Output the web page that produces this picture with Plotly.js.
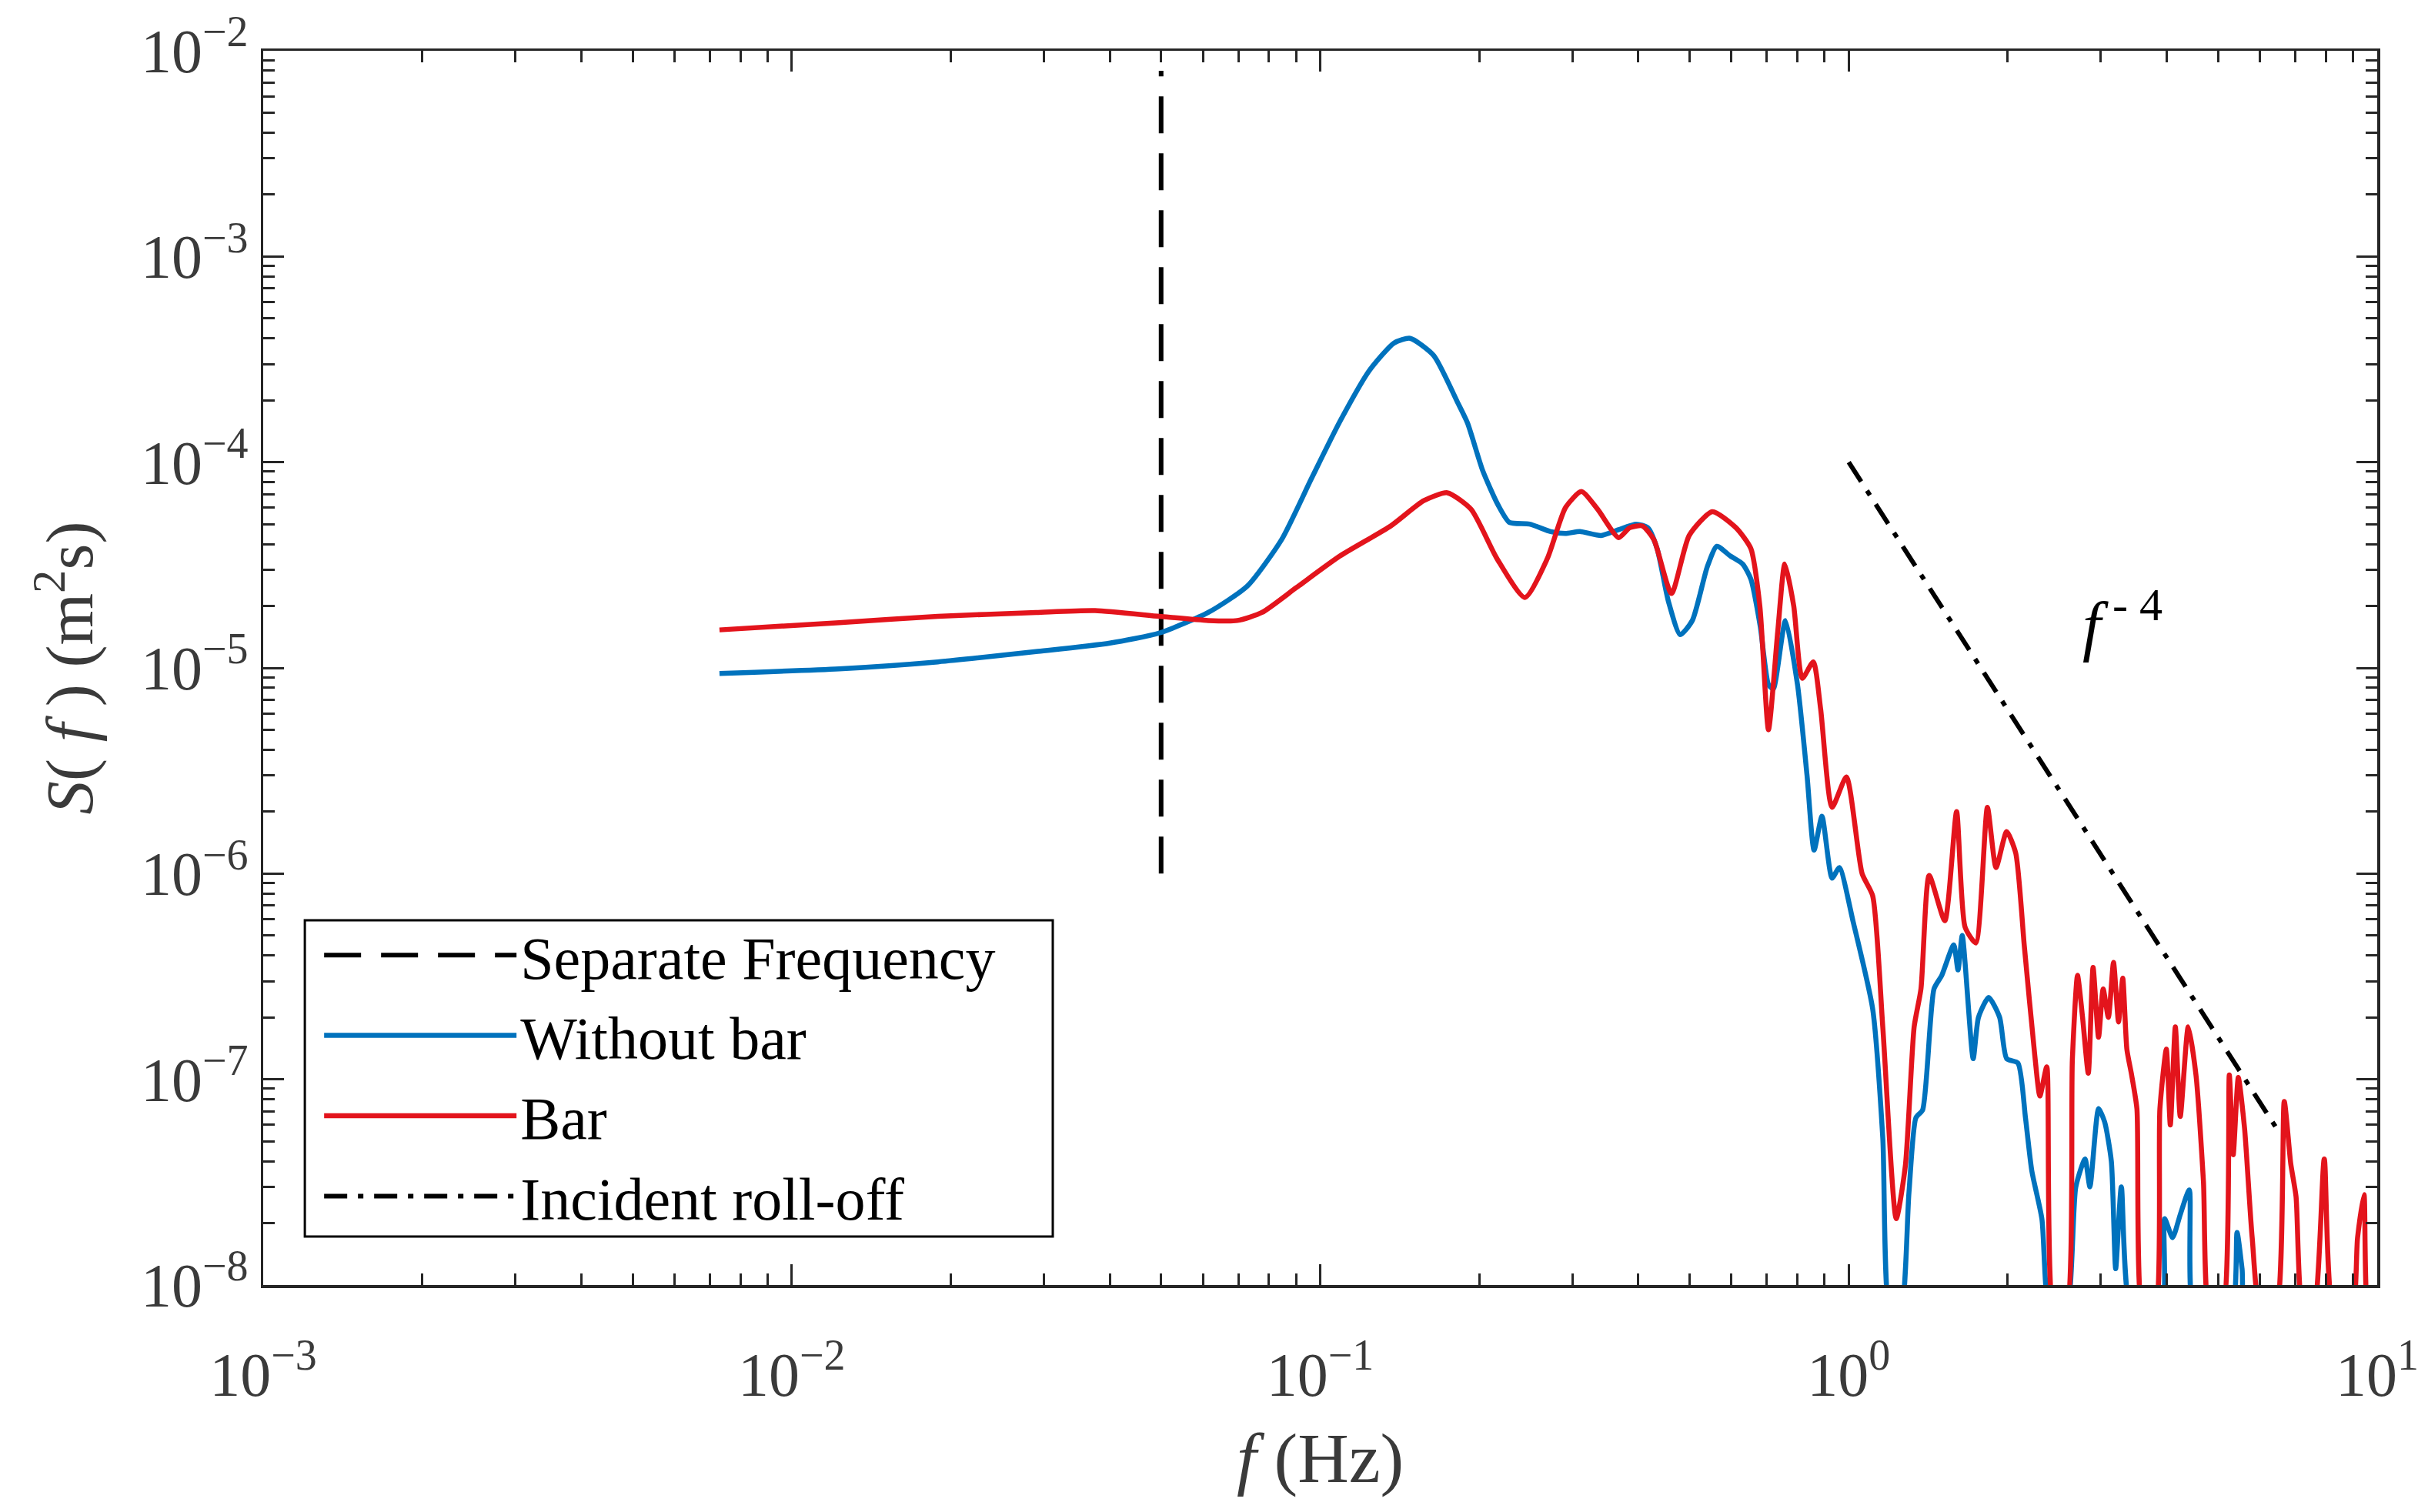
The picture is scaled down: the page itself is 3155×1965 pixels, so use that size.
<!DOCTYPE html>
<html>
<head>
<meta charset="utf-8">
<script src="https://cdn.plot.ly/plotly-3.0.1.min.js"></script>
<style>
  html, body { margin: 0; padding: 0; background: #fff; }
  #chart { width: 3155px; height: 1965px; }
</style>
</head>
<body>
<div id="chart"></div>
<script>
// frequency (Hz) and spectral density (m^2 s)
const fWithout = [
  0.0073, 0.0123, 0.0189, 0.029, 0.04, 0.0497, 0.0614, 0.0728, 0.0845, 0.0962,
  0.109, 0.124, 0.138, 0.148, 0.164, 0.182, 0.19, 0.203, 0.217, 0.228,
  0.249, 0.273, 0.291, 0.31, 0.34, 0.367, 0.396, 0.417, 0.434, 0.456,
  0.48, 0.506, 0.54, 0.563, 0.597, 0.63, 0.653, 0.68, 0.705, 0.72,
  0.759, 0.8, 0.834, 0.86, 0.89, 0.93, 0.96, 1.02, 1.11, 1.16,
  1.2, 1.25, 1.3, 1.34, 1.38, 1.45, 1.5, 1.58, 1.61, 1.64,
  1.72, 1.76, 1.84, 1.93, 1.99, 2.09, 2.16, 2.22, 2.32, 2.41,
  2.57, 2.69, 2.8, 2.86, 2.97, 3.05, 3.14, 3.2, 3.28, 3.44,
  3.9, 3.96, 4.1, 4.24, 4.41, 4.52, 5.28, 5.43, 5.55, 5.68,
  10
]
const sWithout = [
  9.4e-6, 9.9e-6, 1.07e-5, 1.2e-5, 1.32e-5, 1.48e-5, 1.86e-5, 2.5e-5, 4.2e-5, 8.3e-5,
  1.58e-4, 2.8e-4, 3.8e-4, 4.0e-4, 3.3e-4, 1.95e-4, 1.55e-4, 9.1e-5, 6.2e-5, 5.1e-5,
  5.0e-5, 4.6e-5, 4.5e-5, 4.6e-5, 4.4e-5, 4.7e-5, 5.0e-5, 4.8e-5, 3.8e-5, 2.1e-5,
  1.45e-5, 1.7e-5, 3.1e-5, 3.9e-5, 3.5e-5, 3.2e-5, 2.7e-5, 1.6e-5, 8.3e-6, 7.9e-6,
  1.7e-5, 8.3e-6, 3.0e-6, 1.3e-6, 1.9e-6, 9.5e-7, 1.07e-6, 5.8e-7, 2.2e-7, 5.2e-8,
  7e-9, 7e-9, 2.8e-8, 6.5e-8, 7.1e-8, 2.75e-7, 3.2e-7, 4.5e-7, 3.4e-7, 5.0e-7,
  1.26e-7, 2.0e-7, 2.5e-7, 2.0e-7, 1.26e-7, 1.2e-7, 6.5e-8, 3.6e-8, 2.1e-8, 7e-9,
  7e-9, 3.0e-8, 4.1e-8, 3.0e-8, 7.2e-8, 6.2e-8, 4.0e-8, 1.2e-8, 3.0e-8, 7e-9,
  7e-9, 2.1e-8, 1.7e-8, 2.2e-8, 2.9e-8, 7e-9, 7e-9, 1.8e-8, 1.2e-8, 7e-9,
  5e-9
]

const fBar = [
  0.0073, 0.0123, 0.0189, 0.029, 0.0375, 0.0497, 0.0614, 0.0697, 0.0776, 0.09,
  0.109, 0.136, 0.157, 0.174, 0.193, 0.216, 0.244, 0.269, 0.291, 0.312,
  0.335, 0.367, 0.385, 0.407, 0.428, 0.462, 0.499, 0.552, 0.612, 0.653,
  0.679, 0.705, 0.734, 0.757, 0.787, 0.817, 0.857, 0.885, 0.93, 0.99,
  1.06, 1.11, 1.16, 1.23, 1.28, 1.33, 1.37, 1.42, 1.52, 1.6,
  1.66, 1.74, 1.83, 1.9, 1.99, 2.07, 2.15, 2.25, 2.3, 2.37,
  2.45, 2.57, 2.65, 2.71, 2.77, 2.84, 2.9, 2.97, 3.03, 3.1,
  3.17, 3.24, 3.3, 3.36, 3.43, 3.51, 3.61, 3.79, 3.88, 3.99,
  4.06, 4.15, 4.24, 4.39, 4.54, 4.69, 4.83, 5.08, 5.25, 5.34,
  5.46, 5.61, 5.8, 6.04, 6.41, 6.67, 6.86, 7.02, 7.26, 7.55,
  7.94, 8.3, 8.93, 9.18, 9.44, 9.65, 10
]
const sBar = [
  1.53e-5, 1.66e-5, 1.78e-5, 1.86e-5, 1.9e-5, 1.78e-5, 1.7e-5, 1.7e-5, 1.86e-5, 2.45e-5,
  3.5e-5, 4.9e-5, 6.5e-5, 7.1e-5, 5.9e-5, 3.4e-5, 2.2e-5, 3.4e-5, 6.0e-5, 7.2e-5,
  5.9e-5, 4.3e-5, 4.8e-5, 4.9e-5, 4.2e-5, 2.3e-5, 4.4e-5, 5.75e-5, 4.8e-5, 3.8e-5,
  2.0e-5, 5.0e-6, 1.5e-5, 3.2e-5, 2.0e-5, 8.9e-6, 1.07e-5, 6.3e-6, 2.1e-6, 2.95e-6,
  1.0e-6, 7.8e-7, 1.8e-7, 2.1e-8, 3.8e-8, 1.8e-7, 2.75e-7, 9.8e-7, 5.9e-7, 2.0e-6,
  5.5e-7, 4.6e-7, 2.1e-6, 1.07e-6, 1.6e-6, 1.26e-6, 4.4e-7, 1.3e-7, 8.3e-8, 1.15e-7,
  7e-9, 7e-9, 1.26e-7, 3.2e-7, 2.0e-7, 1.07e-7, 3.5e-7, 1.6e-7, 2.75e-7, 2.0e-7,
  3.7e-7, 1.9e-7, 3.1e-7, 1.4e-7, 1.05e-7, 7.2e-8, 7e-9, 7e-9, 7.2e-8, 1.4e-7,
  6.0e-8, 1.8e-7, 6.6e-8, 1.8e-7, 1.05e-7, 3.2e-8, 7e-9, 7e-9, 1.05e-7, 4.3e-8,
  1.02e-7, 5.8e-8, 1.7e-8, 7e-9, 7e-9, 7.8e-8, 3.9e-8, 2.7e-8, 7e-9, 7e-9,
  4.1e-8, 7e-9, 7e-9, 1.7e-8, 2.75e-8, 7e-9, 7e-9
]

// separate frequency marker and incident roll-off guide (end points as drawn)
const fSeparate = [0.05, 0.05]
const sSeparate = [1e-6, 8e-3]
const fRolloff = [1, 6.5]
const sRolloff = [1e-4, 5.6e-8]

const seriesNames = ['Separate Frequency', 'Without bar', 'Bar', 'Incident roll-off']

const xTickVals = [1e-3, 1e-2, 1e-1, 1, 10]
const xTickText = ['10<sup>−3</sup>', '10<sup>−2</sup>', '10<sup>−1</sup>', '10<sup>0</sup>', '10<sup>1</sup>']
const yTickVals = [1e-8, 1e-7, 1e-6, 1e-5, 1e-4, 1e-3, 1e-2]
const yTickText = ['10<sup>−8</sup>', '10<sup>−7</sup>', '10<sup>−6</sup>', '10<sup>−5</sup>', '10<sup>−4</sup>', '10<sup>−3</sup>', '10<sup>−2</sup>']

const serif = 'Liberation Serif, Times New Roman, serif'
const axisColor = '#262626'
const labelColor = '#3a3a3a'

const traces = [
  {
    name: seriesNames[0],
    type: 'scatter',
    mode: 'lines',
    x: fSeparate,
    y: sSeparate,
    line: { color: '#000000', width: 6, dash: '48px,26px' }
  },
  {
    name: seriesNames[1],
    type: 'scatter',
    mode: 'lines',
    x: fWithout,
    y: sWithout,
    line: { color: '#0072bd', width: 6.5, shape: 'spline', smoothing: 0.6 }
  },
  {
    name: seriesNames[2],
    type: 'scatter',
    mode: 'lines',
    x: fBar,
    y: sBar,
    line: { color: '#e3141c', width: 6.5, shape: 'spline', smoothing: 0.6 }
  },
  {
    name: seriesNames[3],
    type: 'scatter',
    mode: 'lines',
    x: fRolloff,
    y: sRolloff,
    line: { color: '#000000', width: 6, dash: '30px,14px,7px,14px' }
  }
]

const axisCommon = {
  type: 'log',
  showgrid: false,
  zeroline: false,
  showline: true,
  linecolor: axisColor,
  linewidth: 3.5,
  mirror: 'ticks',
  ticks: 'inside',
  ticklen: 27,
  tickwidth: 3,
  tickcolor: axisColor,
  tickmode: 'array',
  tickfont: { family: serif, size: 80, color: labelColor },
  minor: { ticks: 'inside', ticklen: 15, tickwidth: 3, tickcolor: axisColor, dtick: 'D1', showgrid: false }
}

const layout = {
  width: 3155,
  height: 1965,
  margin: { l: 342, r: 66, t: 66, b: 295 },
  paper_bgcolor: '#ffffff',
  plot_bgcolor: '#ffffff',
  showlegend: true,
  font: { family: serif, color: '#000000' },
  xaxis: Object.assign({}, axisCommon, {
    range: [-3, 1],
    tickvals: xTickVals,
    ticktext: xTickText,
    ticklabelstandoff: 44
  }),
  yaxis: Object.assign({}, axisCommon, {
    range: [-8, -2],
    tickvals: yTickVals,
    ticktext: yTickText,
    ticklabelstandoff: 0,
    title: { text: '\u00a0\u00a0<i>S</i>( <i>f</i> ) (m<sup>2</sup>s)', font: { family: serif, size: 87, color: labelColor }, standoff: 34 }
  }),
  legend: {
    x: 0.027,
    y: 0.303,
    xanchor: 'left',
    yanchor: 'top',
    bgcolor: 'rgba(0,0,0,0)',
    borderwidth: 0,
    itemwidth: 250,
    tracegroupgap: 0,
    font: { family: serif, size: 78, color: '#000000' }
  },
  shapes: [
    {
      // legend frame
      type: 'rect',
      xref: 'paper',
      yref: 'paper',
      x0: 0.0197,
      x1: 0.3735,
      y0: 0.0393,
      y1: 0.2955,
      line: { color: '#000000', width: 3 },
      fillcolor: '#ffffff',
      layer: 'above'
    }
  ],
  annotations: [
    {
      // x axis title, placed by hand below the tick labels
      x: 0.5,
      y: -0.107,
      xref: 'paper',
      yref: 'paper',
      xanchor: 'center',
      yanchor: 'top',
      text: '<i>f</i> (Hz)',
      showarrow: false,
      font: { family: serif, size: 92, color: labelColor }
    },
    {
      x: Math.log10(3.3),
      y: Math.log10(1.7e-5),
      xref: 'x',
      yref: 'y',
      text: '<i>f</i><sup> - 4</sup>',
      showarrow: false,
      font: { family: serif, size: 86, color: '#000000' }
    }
  ]
}

Plotly.newPlot('chart', traces, layout, { staticPlot: true })
</script>
</body>
</html>
